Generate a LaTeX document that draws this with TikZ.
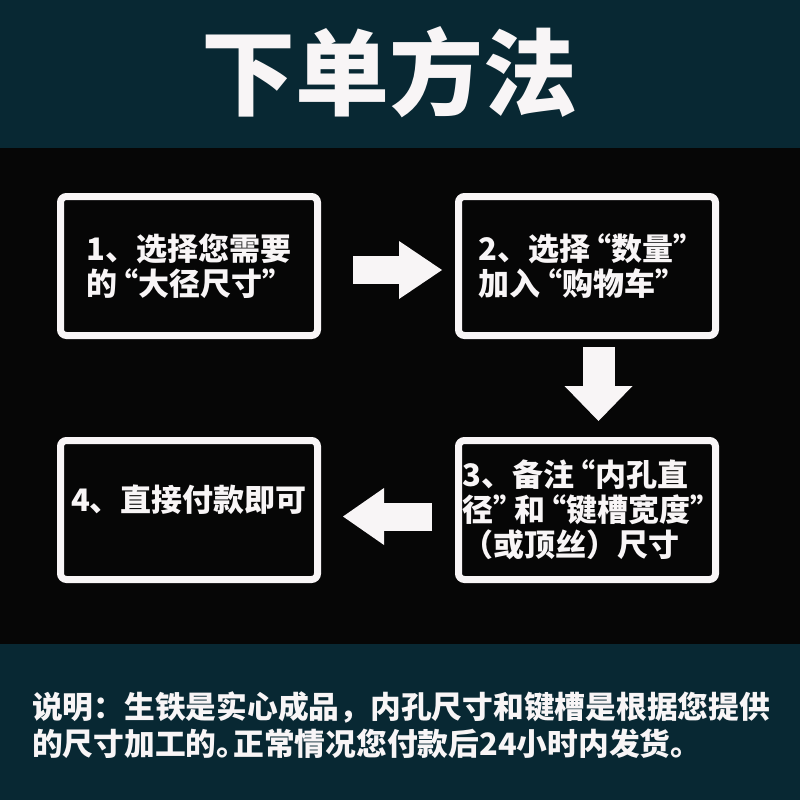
\documentclass[tikz,border=0pt]{standalone}
\usepackage{fontspec}
\setmainfont{Noto Sans CJK SC}
\usetikzlibrary{arrows.meta, positioning}
\definecolor{OrderTeal}{HTML}{082833}
\definecolor{OrderBlack}{HTML}{060606}
\definecolor{OrderWhite}{HTML}{F8F5F6}
% narrow quotes
\newcommand{\oq}{\makebox[0.68em][r]{“}}
\newcommand{\cq}{\makebox[0.68em][l]{”}}

\begin{document}
\begin{tikzpicture}[
        x=1pt, y=-1pt,
        node distance=98pt and 134pt,
        every node/.style={text=OrderWhite, inner sep=0pt},
        title/.style={font=\fontsize{94}{94}\selectfont\bfseries},
        box/.style={draw=OrderWhite, line width=7pt, rounded corners=6pt, minimum width=257pt, minimum height=139pt, align=left, font=\fontsize{31}{35}\selectfont\bfseries},
        note/.style={align=left, font=\fontsize{30.75}{37}\selectfont\bfseries},
        arrow/.style={draw=OrderWhite, line width=28pt}
    ]
        % bands
        \fill[OrderTeal] (0,0) rectangle (800,148);
        \fill[OrderBlack] (0,148) rectangle (800,644);
        \fill[OrderTeal] (0,644) rectangle (800,800);

        \node[title] (title) at (389,72) {下单方法};

        \node[box] (choose) at (189,266) {1、选择您需要\\的\oq 大径尺寸\cq};
        \node[box, right=of choose] (cart) {2、选择\oq 数量\cq\\加入\oq 购物车\cq};
        \node[box, below=of cart] (remark) {3、备注\oq 内孔直\\径\cq 和\oq 键槽宽度\cq\\（或顶丝）尺寸};
        \node[box, left=of remark] (pay) {4、直接付款即可\\[-12pt]\mbox{}};

        \node[note] (note) at (401,725.5) {说明：生铁是实心成品，内孔尺寸和键槽是根据您提供\\的尺寸加工的。\kern-0.45em 正常情况您付款后24小时内发货。};

        \draw[arrow, shorten <=32pt, shorten >=13pt, -{Triangle[length=43pt, width=58pt, line width=0pt]}]
            ([yshift=-4pt]choose.east) -- ([yshift=-4pt]cart.west);
        \draw[arrow, line width=32pt, shorten <=8pt, shorten >=16pt, -{Triangle[length=35pt, width=68pt, line width=0pt]}]
            ([xshift=11.5pt]cart.south) -- ([xshift=11.5pt]remark.north);
        \draw[arrow, shorten <=23pt, shorten >=22pt, -{Triangle[length=41pt, width=57pt, line width=0pt]}]
            ([yshift=-6.5pt]remark.west) -- ([yshift=-6.5pt]pay.east);
    \end{tikzpicture}
\end{document}
